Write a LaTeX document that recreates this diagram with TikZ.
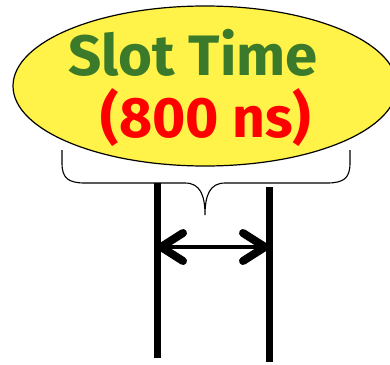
\documentclass[tikz,border=0pt]{standalone}
\usepackage{fontspec}
\setmainfont{Fira Sans}
\usetikzlibrary{arrows.meta,shapes.geometric}
\definecolor{slotyellow}{RGB}{255,242,72}
\definecolor{slotgreen}{RGB}{58,122,42}
\definecolor{slotred}{RGB}{255,0,0}
\tikzset{
  bubble/.style={ellipse,draw=black,line width=1.2pt,fill=slotyellow,minimum width=384pt,minimum height=160pt,inner sep=0pt},
  bigtext/.style={font=\fontsize{57}{57}\selectfont\bfseries,inner sep=0pt,anchor=base},
  wall/.style={line width=7pt},
  span/.style={line width=4.5pt,{Straight Barb[length=22pt,width=28pt,line width=8pt,round]}-{Straight Barb[length=22pt,width=28pt,line width=8pt,round]}},
  bracestyle/.style={line width=1.1pt}
}
\begin{document}
\begin{tikzpicture}[x=1pt,y=-1pt]
\useasboundingbox (0,0) rectangle (390,364);
\node[bubble] (oval) at (205,86) {};
\node[bigtext,text=slotgreen,xscale=1.02] (title) at (193,75) {Slot Time};
\node[bigtext,text=slotred,xscale=1.0] (value) at (206,137) {(800 ns)};
\coordinate (lt) at (157,183);
\coordinate (lb) at (157,358);
\coordinate (rt) at (269,187);
\coordinate (rb) at (269,362);
\coordinate (la) at (157,247);
\coordinate (ra) at (269,247);
\draw[wall] (lt) -- (lb);
\draw[wall] (rt) -- (rb);
\draw[span] (la) -- (ra);
\coordinate (bl) at (62,150);
\coordinate (br) at (350,150);
\coordinate (bt) at (205,215);
\draw[bracestyle] (bl) -- (62,163) .. controls (62,178) and (68,183) .. (85,183) -- (185,183) .. controls (200,183) and (205,195) .. (bt)
  .. controls (205,195) and (210,183) .. (225,183) -- (327,183) .. controls (344,183) and (350,178) .. (350,163) -- (br);
\end{tikzpicture}
\end{document}
